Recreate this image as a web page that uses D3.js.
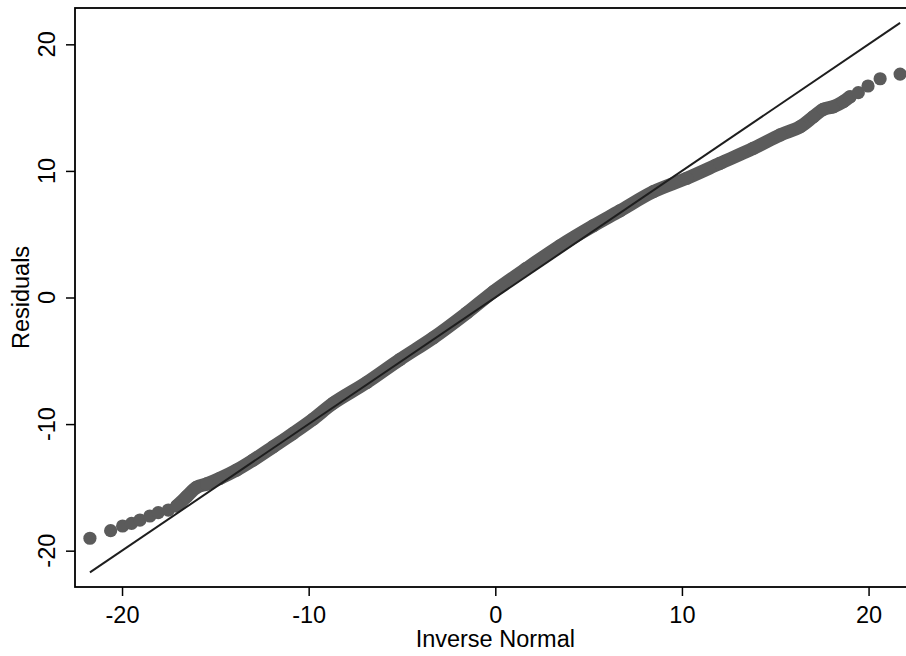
<!DOCTYPE html>
<html>
<head>
<meta charset="utf-8">
<script src="https://cdn.jsdelivr.net/npm/d3@7"></script>
<style>
  html, body { margin: 0; padding: 0; background: #fff; }
  svg { display: block; }
  text { font-family: "Liberation Sans", Arial, Helvetica, sans-serif; fill: #000; }
</style>
</head>
<body>
<svg id="chart" width="906" height="656"></svg>
<script>
// Normal quantile plot of regression residuals
// inverse-normal quantiles (x) and the sorted residuals (y)
const invNormal = [
  -21.72, -20.61, -19.97, -19.49, -19.04, -18.51, -18.06, -17.52, -17.07,
  -16.54, -16.00, -15.47, -14.75, -13.86, -12.97, -11.90, -10.83, -9.75,
  -8.68, -6.89, -5.11, -3.32, -1.53, -0.10, 1.68, 3.47, 5.25, 6.68, 8.47,
  10.26, 12.04, 13.83, 15.26, 16.33, 17.04, 17.58, 18.11, 18.65, 19.01,
  19.45, 19.97, 20.62, 21.69
];
const residuals = [
  -19.02, -18.42, -18.05, -17.84, -17.58, -17.26, -17.00, -16.79, -16.47,
  -15.73, -14.99, -14.73, -14.28, -13.63, -12.84, -11.79, -10.73, -9.60,
  -8.35, -6.72, -4.90, -3.18, -1.22, 0.46, 2.31, 4.09, 5.67, 6.85, 8.36,
  9.42, 10.60, 11.79, 12.84, 13.49, 14.28, 14.87, 15.07, 15.47, 15.86,
  16.18, 16.71, 17.28, 17.65
];
const xTicks = [-20, -10, 0, 10, 20];
const yTicks = [-20, -10, 0, 10, 20];
const xTitle = "Inverse Normal";
const yTitle = "Residuals";

const points = invNormal.map((q, i) => ({ q, r: residuals[i] }));

const svg = d3.select("#chart");
const plot = { left: 75, top: 8, right: 915.6, bottom: 587 };

const x = d3.scaleLinear().domain([-22.52, 22.52]).range([plot.left, plot.right]);
const y = d3.scaleLinear().domain([-22.87, 22.87]).range([plot.bottom, plot.top]);

const markColor = "#5b5b5b";
const radius = 6.6;
const fontSize = 23.5;
const fmt = d => d < 0 ? "-" + Math.abs(d) : String(d);

// the observations are so dense in the body that they merge into a band
const bandPts = points.filter(d => d.q >= -17.1 && d.q <= 19.05);
svg.append("path")
  .datum(bandPts)
  .attr("fill", "none")
  .attr("stroke", markColor)
  .attr("stroke-width", radius * 2)
  .attr("stroke-linecap", "round")
  .attr("stroke-linejoin", "round")
  .attr("d", d3.line().x(d => x(d.q)).y(d => y(d.r)).curve(d3.curveCatmullRom));

svg.append("g")
  .selectAll("circle")
  .data(points)
  .join("circle")
  .attr("cx", d => x(d.q))
  .attr("cy", d => y(d.r))
  .attr("r", radius)
  .attr("fill", markColor);

// reference line y = x across the range of the quantiles
const qExt = d3.extent(invNormal);
svg.append("line")
  .attr("x1", x(qExt[0])).attr("y1", y(qExt[0]))
  .attr("x2", x(qExt[1])).attr("y2", y(qExt[1]))
  .attr("stroke", "#1e1e1e")
  .attr("stroke-width", 2);

// plot frame
svg.append("rect")
  .attr("x", plot.left).attr("y", plot.top)
  .attr("width", plot.right - plot.left).attr("height", plot.bottom - plot.top)
  .attr("fill", "none").attr("stroke", "#000").attr("stroke-width", 1.8);

// x axis
const xAxis = svg.append("g")
  .attr("transform", `translate(0,${plot.bottom})`)
  .call(d3.axisBottom(x).tickValues(xTicks).tickSize(9).tickPadding(10).tickFormat(fmt));
xAxis.select(".domain").remove();
xAxis.selectAll(".tick line").attr("stroke", "#000").attr("stroke-width", 1.5);
xAxis.selectAll(".tick text")
  .attr("font-size", fontSize)
  .attr("font-family", "Liberation Sans, Arial, sans-serif")
  .attr("fill", "#000");

// y axis with rotated labels
const yAxis = svg.append("g")
  .attr("transform", `translate(${plot.left},0)`)
  .call(d3.axisLeft(y).tickValues(yTicks).tickSize(9).tickFormat(""));
yAxis.select(".domain").remove();
yAxis.selectAll(".tick line").attr("stroke", "#000").attr("stroke-width", 1.5);
svg.append("g")
  .selectAll("text")
  .data(yTicks)
  .join("text")
  .attr("transform", d => `translate(55,${y(d)}) rotate(-90)`)
  .attr("text-anchor", "middle")
  .attr("font-size", fontSize)
  .text(fmt);

// axis titles
svg.append("text")
  .attr("x", x(0)).attr("y", 647)
  .attr("text-anchor", "middle")
  .attr("font-size", fontSize)
  .text(xTitle);
svg.append("text")
  .attr("transform", `translate(29,${(plot.top + plot.bottom) / 2}) rotate(-90)`)
  .attr("text-anchor", "middle")
  .attr("font-size", fontSize)
  .text(yTitle);
</script>
</body>
</html>
